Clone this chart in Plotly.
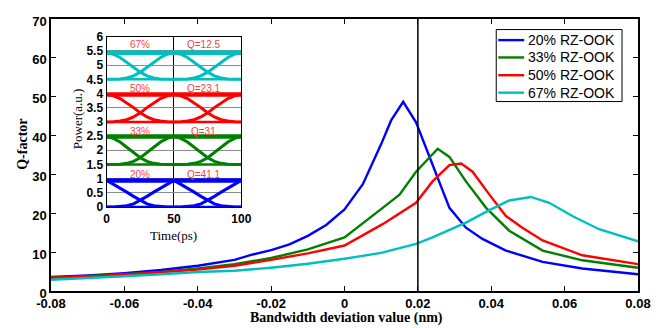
import plotly.graph_objects as go

# ---------------- main chart data ----------------
x_20 = [-0.08, -0.07, -0.06, -0.05, -0.04, -0.03, -0.025, -0.02, -0.015, -0.01, -0.005, 0.0, 0.005, 0.01, 0.0127,
        0.016, 0.0195, 0.024, 0.0263, 0.0286, 0.0331, 0.0376, 0.044, 0.054, 0.0648, 0.08]
q_20 = [3.6, 4.0, 4.6, 5.4, 6.5, 8.0, 9.4, 10.5, 12.0, 14.2, 17.0, 21.0, 27.5, 37.8, 43.9,
        48.7, 43.4, 32.4, 26.5, 21.4, 16.3, 13.4, 10.4, 7.5, 5.8, 4.3]

x_33 = [-0.08, -0.07, -0.06, -0.05, -0.04, -0.03, -0.026, -0.02, -0.01, 0.0, 0.0104, 0.015, 0.0195, 0.0254,
        0.0286, 0.0331, 0.0386, 0.0449, 0.054, 0.0648, 0.08]
q_33 = [3.4, 3.8, 4.3, 4.9, 5.8, 6.9, 7.5, 8.5, 10.7, 13.8, 21.4, 24.8, 30.7, 36.6,
        34.5, 28.2, 21.4, 15.5, 10.4, 7.9, 6.0]

x_50 = [-0.08, -0.07, -0.06, -0.05, -0.04, -0.03, -0.026, -0.02, -0.01, 0.0, 0.0104, 0.015, 0.0195, 0.024,
        0.0286, 0.0318, 0.0349, 0.0395, 0.044, 0.0485, 0.054, 0.0648, 0.08]
q_50 = [3.4, 3.7, 4.2, 4.8, 5.5, 6.5, 7.1, 8.0, 9.7, 11.7, 17.2, 20.0, 22.7, 28.2,
        32.4, 32.8, 30.7, 24.8, 19.3, 16.3, 13.0, 9.2, 6.9]

x_67 = [-0.08, -0.07, -0.06, -0.05, -0.04, -0.03, -0.02, -0.01, 0.0, 0.01, 0.0159, 0.0195, 0.024, 0.0331,
        0.0395, 0.0449, 0.0508, 0.0558, 0.0621, 0.0694, 0.08]
q_67 = [2.9, 3.3, 3.8, 4.3, 4.9, 5.2, 6.0, 7.0, 8.3, 9.8, 11.2, 12.1, 13.8, 17.6,
        20.8, 23.3, 24.2, 22.7, 19.3, 15.9, 12.8]

series_names = ["20% RZ-OOK", "33% RZ-OOK", "50% RZ-OOK", "67% RZ-OOK"]
series_colors = ["#0000ff", "#008000", "#ff0000", "#00bfbf"]

x_ticks = [-0.08, -0.06, -0.04, -0.02, 0, 0.02, 0.04, 0.06, 0.08]
x_ticktext = ["-0.08", "-0.06", "-0.04", "-0.02", "0", "0.02", "0.04", "0.06", "0.08"]
y_ticks = [0, 10, 20, 30, 40, 50, 60, 70]
marker_x = 0.02

# ---------------- inset eye-diagram data ----------------
eye_t = [0, 5, 10, 15, 20, 25, 30, 35, 40, 45, 50]
fall_20 = [1.0, 0.86, 0.71, 0.56, 0.40, 0.25, 0.12, 0.05, 0.015, 0.0, 0.0]
fall_33 = [1.0, 0.93, 0.80, 0.62, 0.42, 0.24, 0.11, 0.04, 0.01, 0.0, 0.0]
fall_50 = [1.0, 0.95, 0.85, 0.70, 0.52, 0.33, 0.18, 0.08, 0.03, 0.01, 0.0]
fall_67 = [1.0, 0.94, 0.82, 0.64, 0.45, 0.27, 0.13, 0.05, 0.015, 0.0, 0.0]
eye_low = [0.0, 1.5, 3.0, 4.5]
eye_high = [0.94, 2.49, 3.97, 5.44]
eye_pct = ["20%", "33%", "50%", "67%"]
eye_q = ["Q=41.1", "Q=31", "Q=23.1", "Q=12.5"]
eye_label_y = [1.16, 2.67, 4.18, 5.74]
inset_yticks = [0, 0.5, 1, 1.5, 2, 2.5, 3, 3.5, 4, 4.5, 5, 5.5, 6]
inset_yticktext = ["0", "0.5", "1", "1.5", "2", "2.5", "3", "3.5", "4", "4.5", "5", "5.5", "6"]
inset_xticks = [0, 50, 100]

fig = go.Figure()

# main curves
for xs, ys, name, col in zip([x_20, x_33, x_50, x_67], [q_20, q_33, q_50, q_67], series_names, series_colors):
    fig.add_trace(go.Scatter(x=xs, y=ys, mode="lines", name=name, showlegend=False,
                             line=dict(color=col, width=2.4), xaxis="x", yaxis="y"))

# vertical marker line
fig.add_trace(go.Scatter(x=[marker_x, marker_x], y=[0, 70], mode="lines", showlegend=False,
                         line=dict(color="black", width=1.5), xaxis="x", yaxis="y"))

# inset eye diagrams
falls = [fall_20, fall_33, fall_50, fall_67]
for k in range(4):
    lo, hi, fr, col = eye_low[k], eye_high[k], falls[k], series_colors[k]
    amp = hi - lo
    xs, ys = [], []
    for off in (0, 50):
        xs += [t + off for t in eye_t] + [None]
        ys += [lo + f * amp for f in fr] + [None]
        xs += [off + 50 - t for t in eye_t] + [None]
        ys += [lo + f * amp for f in fr] + [None]
    fig.add_trace(go.Scatter(x=xs, y=ys, mode="lines", showlegend=False,
                             line=dict(color=col, width=3), xaxis="x2", yaxis="y2"))
    fig.add_trace(go.Scatter(x=[0, 100], y=[hi, hi], mode="lines", showlegend=False,
                             line=dict(color=col, width=4.5), xaxis="x2", yaxis="y2"))
    fig.add_trace(go.Scatter(x=[0, 100], y=[lo, lo], mode="lines", showlegend=False,
                             line=dict(color=col, width=2.5), xaxis="x2", yaxis="y2"))

annotations = []
for k in range(4):
    annotations.append(dict(x=25, y=eye_label_y[k], xref="x2", yref="y2", text=eye_pct[k],
                            showarrow=False, xanchor="center",
                            font=dict(family="Liberation Sans, Arial", size=10, color="#ff3c3c")))
    annotations.append(dict(x=72, y=eye_label_y[k], xref="x2", yref="y2", text=eye_q[k],
                            showarrow=False, xanchor="center",
                            font=dict(family="Liberation Sans, Arial", size=10, color="#ff3c3c")))

# axis titles
annotations.append(dict(x=-0.05, y=0.54, xref="paper", yref="paper", text="<b>Q-factor</b>", textangle=-90,
                        showarrow=False, xanchor="center", yanchor="middle",
                        font=dict(family="Liberation Serif, Times New Roman", size=14, color="black")))
annotations.append(dict(x=0.503, y=-0.1, xref="paper", yref="paper", text="<b>Bandwidth deviation value (nm)</b>",
                        showarrow=False, xanchor="center", yanchor="middle",
                        font=dict(family="Liberation Serif, Times New Roman", size=14, color="black")))
annotations.append(dict(x=0.0442, y=0.635, xref="paper", yref="paper", text="Power(a.u.)", textangle=-90,
                        showarrow=False, xanchor="center", yanchor="middle",
                        font=dict(family="Liberation Serif, Times New Roman", size=13, color="black")))
annotations.append(dict(x=0.209, y=0.205, xref="paper", yref="paper", text="Time(ps)",
                        showarrow=False, xanchor="center", yanchor="middle",
                        font=dict(family="Liberation Serif, Times New Roman", size=13, color="black")))

# hand-built legend (matches the compact box of the original)
leg_box = dict(x0=0.7585, x1=0.9728, y0=0.6965, y1=0.9612)
leg_rows = [0.9224, 0.8586, 0.7933, 0.7292]
shapes = [dict(type="rect", xref="paper", yref="paper", **leg_box,
               line=dict(color="black", width=1), fillcolor="white", layer="above")]
for name, col, ry in zip(series_names, series_colors, leg_rows):
    shapes.append(dict(type="line", xref="paper", yref="paper", x0=0.7619, x1=0.8061, y0=ry, y1=ry,
                       line=dict(color=col, width=2.4), layer="above"))
    annotations.append(dict(x=0.8095, y=ry, xref="paper", yref="paper", text=name, showarrow=False,
                            xanchor="left", yanchor="middle",
                            font=dict(family="Liberation Sans, Arial", size=14, color="black")))

tickfont = dict(family="Liberation Sans, Arial", size=13, color="black", weight="bold")
inset_tickfont = dict(family="Liberation Sans, Arial", size=12, color="black", weight="bold")

fig.update_layout(
    width=663, height=328,
    margin=dict(l=51, r=24, t=15, b=37),
    paper_bgcolor="white", plot_bgcolor="white",
    showlegend=False,
    xaxis=dict(range=[-0.08, 0.08], tickvals=x_ticks, ticktext=x_ticktext, showgrid=False, zeroline=False,
               showline=True, linecolor="black", linewidth=1.5, mirror="allticks",
               ticks="inside", ticklen=5, tickcolor="black", tickfont=tickfont, anchor="y"),
    yaxis=dict(range=[0, 70], tickvals=y_ticks, showgrid=False, zeroline=False,
               showline=True, linecolor="black", linewidth=1.5, mirror="allticks",
               ticks="inside", ticklen=5, tickcolor="black", tickfont=tickfont, anchor="x",
               ticklabelshift=2),
    xaxis2=dict(domain=[0.0947, 0.3243], range=[0, 100], tickvals=inset_xticks, anchor="y2",
                showgrid=True, gridcolor="black", gridwidth=1, zeroline=False,
                showline=True, linecolor="black", linewidth=1.2, mirror=True,
                ticks="", tickfont=inset_tickfont),
    yaxis2=dict(domain=[0.3086, 0.9347], range=[0, 6], tickvals=inset_yticks, ticktext=inset_yticktext,
                anchor="x2", showgrid=True, gridcolor="#8c8c8c", gridwidth=1, zeroline=False,
                showline=True, linecolor="black", linewidth=1.2, mirror=True,
                ticks="", tickfont=inset_tickfont),
    annotations=annotations,
    shapes=shapes,
)

fig.write_html("out.html", config={"displayModeBar": False},
               post_script="document.body.style.margin='0';document.body.style.padding='0';")
